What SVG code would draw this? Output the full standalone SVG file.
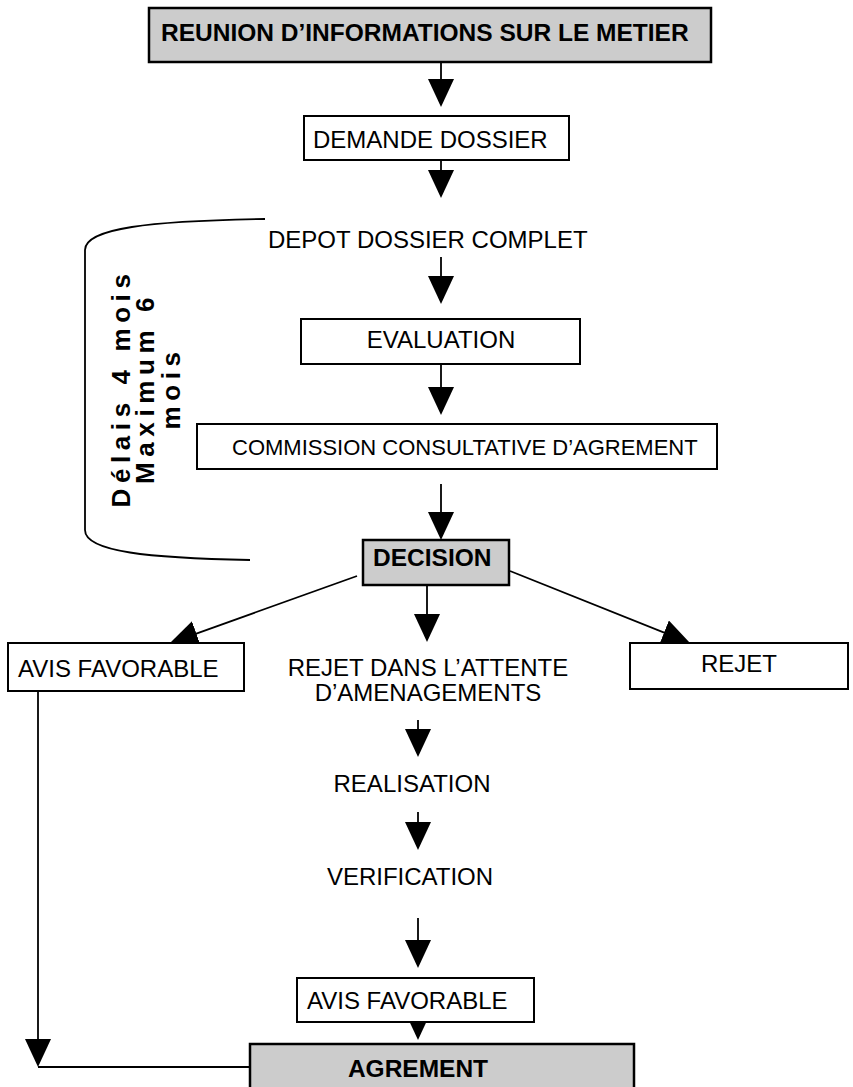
<svg xmlns="http://www.w3.org/2000/svg" width="853" height="1087" viewBox="0 0 853 1087">
<defs>
<style>
.box{fill:#fff;stroke:#000;stroke-width:2}
.gbox{fill:#cccccc;stroke:#000;stroke-width:2.5}
.t{font-family:"Liberation Sans",Arial,Helvetica,sans-serif;font-size:24px;fill:#000}
.b{font-family:"Liberation Sans",Arial,Helvetica,sans-serif;font-size:24.5px;font-weight:bold;fill:#000}
.v{font-family:"Liberation Sans",Arial,Helvetica,sans-serif;font-size:26px;font-weight:bold;letter-spacing:5.6px;fill:#000}
.c{fill:none;stroke:#000;stroke-width:1.8}
</style>
<marker id="ah" viewBox="0 0 28 26" refX="23" refY="13" markerWidth="28" markerHeight="26" markerUnits="userSpaceOnUse" orient="auto">
<path d="M0,0 L28,13 L0,26 z" fill="#000"/>
</marker>
</defs>
<rect width="853" height="1087" fill="#fff"/>

<g id="connectors">
<line class="c" x1="441" y1="62" x2="441" y2="102" marker-end="url(#ah)"/>
<line class="c" x1="441" y1="160" x2="441" y2="193" marker-end="url(#ah)"/>
<line class="c" x1="441" y1="257" x2="441" y2="299" marker-end="url(#ah)"/>
<line class="c" x1="441" y1="364" x2="441" y2="410" marker-end="url(#ah)"/>
<line class="c" x1="441" y1="484" x2="441" y2="535" marker-end="url(#ah)"/>
<line class="c" x1="357" y1="576" x2="174.7" y2="641.3" marker-end="url(#ah)"/>
<line class="c" x1="427" y1="585" x2="427" y2="637" marker-end="url(#ah)"/>
<line class="c" x1="510" y1="571" x2="685.4" y2="641.1" marker-end="url(#ah)"/>
<line class="c" x1="418" y1="720" x2="418" y2="752" marker-end="url(#ah)"/>
<line class="c" x1="418" y1="812" x2="418" y2="845" marker-end="url(#ah)"/>
<line class="c" x1="418" y1="918" x2="418" y2="963" marker-end="url(#ah)"/>
<line class="c" x1="418" y1="1022" x2="418" y2="1035" marker-end="url(#ah)"/>
<line class="c" x1="38" y1="691" x2="38" y2="1062" marker-end="url(#ah)"/>
<line class="c" x1="38" y1="1067" x2="262" y2="1067"/>
<path class="c" d="M265,219 C150,221 85,228 85,250 L85,530 C85,552 150,558 250,560"/>
</g>

<g id="n-reunion">
<rect class="gbox" x="149" y="8" width="562" height="54"/>
<text class="b" x="161" y="41">REUNION D’INFORMATIONS SUR LE METIER</text>
</g>
<g id="n-demande">
<rect class="box" x="304" y="116" width="265" height="44"/>
<text class="t" x="313" y="148">DEMANDE DOSSIER</text>
</g>
<g id="n-depot">
<text class="t" x="268" y="248">DEPOT DOSSIER COMPLET</text>
</g>
<g id="n-evaluation">
<rect class="box" x="301" y="319" width="279" height="45"/>
<text class="t" x="441" y="348" text-anchor="middle">EVALUATION</text>
</g>
<g id="n-commission">
<rect class="box" x="197" y="424" width="520" height="45"/>
<text class="t" x="232" y="455" style="font-size:22px">COMMISSION CONSULTATIVE D’AGREMENT</text>
</g>
<g id="n-delais">
<text class="v" transform="translate(130,388) rotate(-90)" text-anchor="middle">Délais 4 mois</text>
<text class="v" transform="translate(154,388) rotate(-90)" text-anchor="middle">Maximum 6</text>
<text class="v" transform="translate(180,388) rotate(-90)" text-anchor="middle">mois</text>
</g>
<g id="n-decision">
<rect class="gbox" x="363" y="540" width="146" height="45"/>
<text class="b" x="373" y="566">DECISION</text>
</g>
<g id="n-avis1">
<rect class="box" x="8" y="643" width="236" height="48"/>
<text class="t" x="18" y="677">AVIS FAVORABLE</text>
</g>
<g id="n-attente">
<text class="t" x="428" y="676" text-anchor="middle">REJET DANS L’ATTENTE</text>
<text class="t" x="428" y="701" text-anchor="middle">D’AMENAGEMENTS</text>
</g>
<g id="n-rejet">
<rect class="box" x="630" y="643" width="218" height="46"/>
<text class="t" x="739" y="672" text-anchor="middle">REJET</text>
</g>
<g id="n-realisation">
<text class="t" x="412" y="792" text-anchor="middle">REALISATION</text>
</g>
<g id="n-verification">
<text class="t" x="410" y="885" text-anchor="middle">VERIFICATION</text>
</g>
<g id="n-avis2">
<rect class="box" x="297" y="978" width="237" height="44"/>
<text class="t" x="307" y="1009">AVIS FAVORABLE</text>
</g>
<g id="n-agrement">
<rect class="gbox" x="250" y="1044" width="384" height="50"/>
<text class="b" x="418" y="1077" text-anchor="middle">AGREMENT</text>
</g>
</svg>
